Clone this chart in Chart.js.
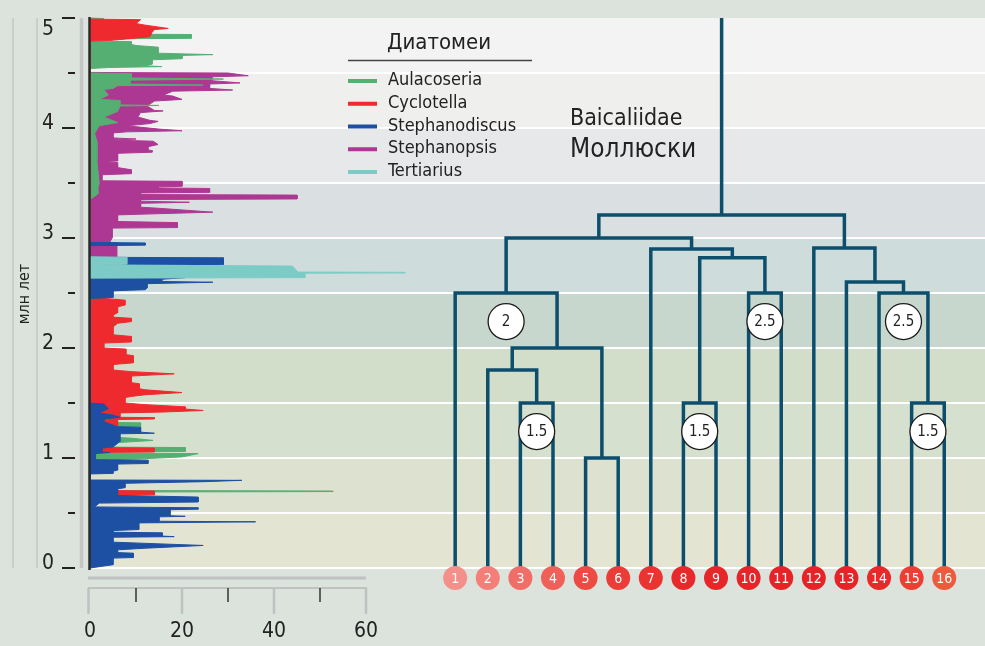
<!DOCTYPE html>
<html lang="ru">
<head>
<meta charset="UTF-8">
<title>Диатомеи и моллюски Байкала</title>
<script src="https://cdn.jsdelivr.net/npm/chart.js"></script>
<style>
  html, body { margin: 0; padding: 0; background: #dce3dd; }
  .wrap { position: relative; width: 985px; height: 646px; overflow: hidden; }
  .wrap canvas { position: absolute; left: 0; top: 0; }
  #profileChart { pointer-events: none; }
</style>
</head>
<body>
<div class="wrap">
  <canvas id="treeChart" width="985" height="646"></canvas>
  <canvas id="profileChart" width="540" height="646"></canvas>
</div>
<script>
// ось возраста, млн лет
const ageTicks = [0, 1, 2, 3, 4, 5];
const ageMinorTicks = [0.5, 1.5, 2.5, 3.5, 4.5];
const countTicks = [0, 20, 40, 60];
const countMinorTicks = [10, 30, 50];

// профили диатомей: [возраст, млн лет; численность]
const aulacoseria = [
  [5.0, 0], [4.995, 3], [4.975, 2], [4.97, 0],
  [4.855, 0], [4.85, 22], [4.815, 22], [4.81, 0],
  [4.79, 0], [4.785, 9], [4.76, 9], [4.75, 10], [4.735, 14.8], [4.68, 14.8], [4.667, 26.7], [4.66, 20],
  [4.63, 20], [4.62, 13.5], [4.58, 13.5], [4.565, 12], [4.558, 15.6], [4.55, 4], [4.54, 0],
  [4.50, 0], [4.495, 9], [4.455, 9], [4.445, 29], [4.435, 8.7], [4.40, 8.7], [4.39, 24.6], [4.385, 6],
  [4.36, 5], [4.35, 3], [4.30, 4], [4.26, 2], [4.25, 6.5], [4.21, 6.5], [4.205, 15], [4.20, 6.5],
  [4.15, 6], [4.10, 3], [4.05, 6], [4.02, 2], [3.95, 1], [3.88, 1.5], [3.70, 1.5], [3.50, 2],
  [3.45, 1.7], [3.40, 1.7], [3.35, 0],
  [1.325, 0], [1.32, 11], [1.285, 11], [1.28, 0],
  [1.20, 0], [1.18, 9], [1.16, 13.7], [1.14, 6], [1.12, 0],
  [1.10, 0], [1.095, 20.7], [1.06, 20.7], [1.055, 0],
  [1.045, 0], [1.04, 23.5], [1.01, 20], [0.99, 10], [0.98, 0],
  [0.705, 0], [0.70, 52.8], [0.695, 52.8], [0.69, 0],
  [0.0, 0]
];
const cyclotella = [
  [4.99, 0], [4.985, 11], [4.95, 10], [4.935, 12], [4.905, 17], [4.895, 14], [4.87, 13.5], [4.83, 13],
  [4.81, 8], [4.795, 4], [4.79, 0],
  [2.57, 0], [2.55, 5], [2.53, 8], [2.515, 3.3], [2.45, 3.3], [2.435, 7.6], [2.39, 7.6], [2.375, 6],
  [2.32, 6], [2.30, 5], [2.28, 5], [2.27, 9], [2.24, 9], [2.225, 6], [2.19, 5], [2.12, 5], [2.105, 9],
  [2.055, 9], [2.045, 3], [2.0, 3], [1.99, 7.8], [1.94, 7.8], [1.93, 9.4], [1.865, 9.4], [1.85, 5],
  [1.80, 5], [1.785, 9], [1.765, 18.3], [1.745, 9], [1.685, 9], [1.675, 10.7], [1.63, 10.7], [1.62, 12],
  [1.595, 20], [1.575, 12], [1.56, 9], [1.55, 7.6], [1.50, 7.6], [1.485, 12], [1.465, 20.7], [1.445, 20.7],
  [1.432, 24.6], [1.418, 16], [1.41, 6.5], [1.37, 6.5], [1.367, 14], [1.355, 14], [1.35, 6], [1.29, 6], [1.28, 0],
  [1.095, 0], [1.09, 14], [1.055, 14], [1.05, 0],
  [0.705, 0], [0.70, 14], [0.665, 14], [0.66, 0],
  [0.0, 0]
];
const stephanodiscus = [
  [2.96, 0], [2.955, 12], [2.935, 12], [2.93, 0],
  [2.825, 0], [2.82, 29], [2.76, 29], [2.755, 0],
  [2.74, 1.3], [2.69, 1.3], [2.685, 0],
  [2.645, 0], [2.64, 20.7], [2.625, 15.6], [2.605, 15.6], [2.598, 26.7], [2.585, 12.4], [2.545, 12.4],
  [2.53, 12], [2.52, 5], [2.46, 5], [2.45, 0],
  [1.50, 0], [1.49, 3], [1.45, 4], [1.41, 2], [1.39, 5], [1.37, 6.5], [1.355, 3], [1.33, 3], [1.30, 5],
  [1.285, 6], [1.28, 11], [1.235, 11], [1.225, 14], [1.22, 6.5], [1.15, 6.5], [1.10, 5], [1.09, 2.6],
  [1.055, 2.6], [1.05, 4.3], [1.04, 1.2], [0.985, 1.2], [0.98, 12.6], [0.95, 12.6], [0.945, 6], [0.89, 6],
  [0.88, 5], [0.86, 5], [0.855, 0],
  [0.80, 0], [0.797, 33], [0.785, 25], [0.77, 7.6], [0.73, 7.6], [0.72, 6], [0.66, 6], [0.645, 23.5],
  [0.60, 23.5], [0.59, 2], [0.555, 1], [0.548, 23.5], [0.535, 23.5], [0.53, 17.4], [0.475, 17.4],
  [0.47, 20.7], [0.465, 15], [0.425, 15], [0.42, 36], [0.41, 10.6], [0.35, 10.6], [0.34, 5], [0.325, 5],
  [0.32, 15.7], [0.29, 15.7], [0.285, 18.3], [0.28, 5], [0.235, 5], [0.205, 24.6], [0.18, 12], [0.165, 6],
  [0.14, 6], [0.135, 9.4], [0.095, 9.4], [0.09, 5], [0.03, 5], [0.0, 0]
];
const stephanopsis = [
  [4.505, 0], [4.50, 30], [4.475, 34.4], [4.465, 26.5], [4.43, 26.5], [4.41, 32.6], [4.40, 26], [4.36, 26],
  [4.345, 31], [4.335, 18], [4.30, 16], [4.29, 18], [4.26, 20], [4.245, 14], [4.20, 12.4], [4.16, 14],
  [4.155, 15.9], [4.14, 11], [4.10, 10.4], [4.07, 13], [4.06, 14.8], [4.04, 13], [4.02, 8], [3.99, 15],
  [3.975, 20], [3.965, 8], [3.955, 5], [3.91, 5], [3.90, 10], [3.89, 5], [3.88, 13.7], [3.85, 14.8],
  [3.83, 12.6], [3.80, 12.6], [3.795, 13.5], [3.78, 13.5], [3.77, 6], [3.70, 6], [3.695, 3], [3.685, 6],
  [3.64, 6], [3.62, 9], [3.585, 9], [3.575, 2.6], [3.52, 2.6], [3.515, 20], [3.47, 20], [3.465, 14.8],
  [3.455, 14.8], [3.45, 26], [3.415, 26], [3.41, 11], [3.395, 11], [3.39, 45], [3.355, 45], [3.35, 11],
  [3.335, 11], [3.325, 21.6], [3.315, 11], [3.28, 11], [3.27, 15], [3.235, 26.7], [3.215, 10], [3.21, 6],
  [3.15, 6], [3.14, 19], [3.095, 19], [3.09, 4.8], [3.0, 4.8], [2.96, 4.3], [2.955, 6], [2.93, 6],
  [2.92, 5.8], [2.80, 5.8], [2.785, 0], [2.775, 8], [2.762, 8], [2.755, 0], [0.0, 0]
];
const tertiarius = [
  [2.83, 0], [2.825, 8], [2.762, 8], [2.755, 2], [2.745, 44], [2.70, 45], [2.69, 45], [2.688, 68.5],
  [2.682, 68.5], [2.68, 46.7], [2.64, 46.7], [2.635, 0]
];

// дерево Baicaliidae: листья 1..16, слияния [узел, узел, возраст, млн лет]
const leaves = [1, 2, 3, 4, 5, 6, 7, 8, 9, 10, 11, 12, 13, 14, 15, 16];
const merges = [
  [3, 4, 1.5],      // 17
  [2, 17, 1.8],     // 18
  [5, 6, 1.0],      // 19
  [18, 19, 2.0],    // 20
  [1, 20, 2.5],     // 21
  [8, 9, 1.5],      // 22
  [10, 11, 2.5],    // 23
  [22, 23, 2.82],   // 24
  [7, 24, 2.9],     // 25
  [21, 25, 3.0],    // 26
  [15, 16, 1.5],    // 27
  [14, 27, 2.5],    // 28
  [13, 28, 2.6],    // 29
  [12, 29, 2.91],   // 30
  [26, 30, 3.21]    // 31
];
const nodeLabels = { 21: '2', 17: '1.5', 22: '1.5', 23: '2.5', 28: '2.5', 27: '1.5' };

const leafColors = ['#f4908a', '#f37f78', '#f16e68', '#f05f58', '#ee4a44', '#ec3c38', '#eb3331', '#e8292c',
  '#e7262a', '#e72529', '#e62428', '#e62428', '#e62428', '#e7292a', '#eb3f34', '#ee5a3c'];
const bandColors = ['#e4e4d2', '#dde1cf', '#d5e0cf', '#d2dec9', '#c7d7cd', '#cfdcdc', '#dadfe2', '#e6e8ea', '#efefed', '#f4f3f4'];

const FONT = '"DejaVu Sans Condensed", "DejaVu Sans", sans-serif';
const INK = '#222';
const TREE = '#0c4e6c';
const LABEL_DROP = 0.26;

// раскладка дерева
const nodeX = {}, nodeH = {};
leaves.forEach(l => { nodeX[l] = l; nodeH[l] = 0; });
const treeLine = [];
merges.forEach(([a, b, h], i) => {
  const id = leaves.length + 1 + i;
  nodeX[id] = (nodeX[a] + nodeX[b]) / 2;
  nodeH[id] = h;
  treeLine.push({x: nodeX[a], y: nodeH[a]}, {x: nodeX[a], y: h}, {x: nodeX[b], y: h}, {x: nodeX[b], y: nodeH[b]}, {x: null, y: null});
});
const rootId = leaves.length + merges.length;
treeLine.push({x: nodeX[rootId], y: nodeH[rootId]}, {x: nodeX[rootId], y: 5});

function line(ctx, x1, y1, x2, y2, color, width) {
  ctx.beginPath();
  ctx.strokeStyle = color;
  ctx.lineWidth = width;
  ctx.moveTo(x1, y1);
  ctx.lineTo(x2, y2);
  ctx.stroke();
}

const bandsPlugin = {
  id: 'bands',
  beforeDatasetsDraw(chart) {
    const {ctx, chartArea, scales: {y}} = chart;
    ctx.save();
    bandColors.forEach((c, k) => {
      const top = y.getPixelForValue((k + 1) * 0.5), bottom = y.getPixelForValue(k * 0.5);
      ctx.fillStyle = c;
      ctx.fillRect(chartArea.left, top, chartArea.right - chartArea.left, bottom - top);
    });
    for (let k = 0; k < 10; k++) {
      const yy = y.getPixelForValue(k * 0.5);
      line(ctx, chartArea.left, yy, chartArea.right, yy, '#ffffff', 2);
    }
    ctx.restore();
  }
};

const ageAxisPlugin = {
  id: 'ageAxis',
  afterDraw(chart) {
    const {ctx, scales: {y}} = chart;
    const top = y.getPixelForValue(5), bottom = y.getPixelForValue(0);
    ctx.save();
    line(ctx, 13, top, 13, bottom, '#c3c7c5', 1.5);
    line(ctx, 37, top, 37, bottom, '#c3c7c5', 1.5);
    line(ctx, 81.5, top, 81.5, bottom, '#c4c6c6', 3.5);
    ctx.fillStyle = INK;
    ctx.font = '21px ' + FONT;
    ctx.textAlign = 'right';
    ageTicks.forEach(v => {
      const yy = y.getPixelForValue(v);
      line(ctx, 62, yy, 75, yy, INK, 2);
      ctx.textBaseline = v === 5 ? 'top' : 'alphabetic';
      ctx.fillText(String(v), 54, yy + 1);
    });
    ageMinorTicks.forEach(v => {
      const yy = y.getPixelForValue(v);
      line(ctx, 68, yy, 75, yy, INK, 2);
    });
    ctx.translate(25, 294);
    ctx.rotate(-Math.PI / 2);
    ctx.textAlign = 'center';
    ctx.textBaseline = 'middle';
    ctx.font = '16px ' + FONT;
    ctx.fillText('млн лет', 0, 0);
    ctx.restore();
  }
};

const treeMarksPlugin = {
  id: 'treeMarks',
  afterDatasetsDraw(chart) {
    const {ctx, scales: {x, y}} = chart;
    ctx.save();
    ctx.textAlign = 'center';
    ctx.textBaseline = 'middle';
    const base = y.getPixelForValue(0) + 10;
    leaves.forEach((l, i) => {
      const cx = x.getPixelForValue(nodeX[l]);
      ctx.beginPath();
      ctx.fillStyle = leafColors[i];
      ctx.arc(cx, base, 12, 0, Math.PI * 2);
      ctx.fill();
      ctx.fillStyle = '#ffffff';
      ctx.font = '14px ' + FONT;
      ctx.fillText(String(l), cx, base + 1);
    });
    Object.keys(nodeLabels).forEach(id => {
      const cx = x.getPixelForValue(nodeX[id]);
      const cy = y.getPixelForValue(nodeH[id] - LABEL_DROP);
      ctx.beginPath();
      ctx.fillStyle = '#ffffff';
      ctx.strokeStyle = '#1c1c1c';
      ctx.lineWidth = 1.3;
      ctx.arc(cx, cy, 18, 0, Math.PI * 2);
      ctx.fill();
      ctx.stroke();
      ctx.fillStyle = INK;
      ctx.font = '15px ' + FONT;
      ctx.fillText(nodeLabels[id], cx, cy + 1);
    });
    // подпись дерева
    ctx.textAlign = 'left';
    ctx.textBaseline = 'alphabetic';
    ctx.font = '23px ' + FONT;
    ctx.fillText('Baicaliidae', 570, 125);
    ctx.font = '26px ' + FONT;
    ctx.fillText('Моллюски', 570, 157);
    ctx.restore();
  }
};

const countAxisPlugin = {
  id: 'countAxis',
  afterDatasetsDraw(chart) {
    const {ctx, scales: {x, y}} = chart;
    const x0 = x.getPixelForValue(0), x60 = x.getPixelForValue(60);
    ctx.save();
    line(ctx, x0 - 0.5, y.getPixelForValue(5) - 1, x0 - 0.5, y.getPixelForValue(0) + 2, '#2b2b2b', 2.5);
    line(ctx, x0 - 2, 578, x60, 578, '#bfc1c2', 3);
    line(ctx, x0 - 2, 588, x60 + 1, 588, '#c0c2c2', 2);
    countTicks.forEach(v => {
      const xx = x.getPixelForValue(v) - (v === 0 ? 1.5 : 0);
      line(ctx, xx, 588, xx, 614, '#bfc1c2', 2.5);
    });
    countMinorTicks.forEach(v => {
      const xx = x.getPixelForValue(v);
      line(ctx, xx, 588, xx, 602, '#333333', 1.5);
    });
    ctx.fillStyle = INK;
    ctx.font = '21px ' + FONT;
    ctx.textAlign = 'center';
    ctx.textBaseline = 'middle';
    countTicks.forEach(v => ctx.fillText(String(v), x.getPixelForValue(v), 632));
    ctx.restore();
  }
};

const diatomLegendPlugin = {
  id: 'diatomLegend',
  afterDraw(chart) {
    const {ctx} = chart;
    ctx.save();
    ctx.fillStyle = INK;
    ctx.textAlign = 'left';
    ctx.textBaseline = 'alphabetic';
    ctx.font = '22px ' + FONT;
    ctx.fillText('Диатомеи', 387, 49);
    line(ctx, 348, 60.5, 532, 60.5, '#444444', 1.5);
    ctx.font = '18px ' + FONT;
    chart.data.datasets.forEach((ds, i) => {
      const base = 85 + i * 22.75;
      line(ctx, 348, base - 4, 377, base - 4, ds.borderColor, 4);
      ctx.fillStyle = INK;
      ctx.fillText(ds.label, 388, base);
    });
    ctx.restore();
  }
};

const taxa = [
  { label: 'Aulacoseria', data: aulacoseria, color: '#55ae72', order: 3 },
  { label: 'Cyclotella', data: cyclotella, color: '#ee2a2e', order: 2 },
  { label: 'Stephanodiscus', data: stephanodiscus, color: '#1d50a2', order: 1 },
  { label: 'Stephanopsis', data: stephanopsis, color: '#ad3893', order: 4 },
  { label: 'Tertiarius', data: tertiarius, color: '#7ccbc6', order: 0 }
];

new Chart(document.getElementById('treeChart'), {
  type: 'scatter',
  data: {
    datasets: [{
      label: 'Baicaliidae',
      data: treeLine,
      showLine: true,
      borderColor: TREE,
      borderWidth: 3.5,
      pointRadius: 0,
      spanGaps: false,
      clip: false
    }]
  },
  options: {
    responsive: false,
    animation: false,
    devicePixelRatio: 1,
    layout: { padding: { left: 90, right: 0, top: 18, bottom: 78 } },
    scales: {
      x: { type: 'linear', min: -10.2, max: 17.25, display: false },
      y: { type: 'linear', min: 0, max: 5, display: false }
    },
    plugins: { legend: { display: false }, tooltip: { enabled: false } }
  },
  plugins: [bandsPlugin, treeMarksPlugin, ageAxisPlugin]
});

new Chart(document.getElementById('profileChart'), {
  type: 'line',
  data: {
    datasets: taxa.map(t => ({
      label: t.label,
      data: t.data.map(([age, v]) => ({ x: v, y: age })),
      borderColor: t.color,
      backgroundColor: t.color,
      borderWidth: 1,
      fill: 'origin',
      order: t.order,
      pointRadius: 0,
      tension: 0,
      clip: false
    }))
  },
  options: {
    indexAxis: 'y',
    responsive: false,
    animation: false,
    devicePixelRatio: 1,
    layout: { padding: { left: 90, right: 174, top: 18, bottom: 78 } },
    scales: {
      x: { type: 'linear', min: 0, max: 60, display: false },
      y: { type: 'linear', min: 0, max: 5, display: false }
    },
    plugins: { legend: { display: false }, tooltip: { enabled: false } }
  },
  plugins: [countAxisPlugin, diatomLegendPlugin]
});
</script>
</body>
</html>
